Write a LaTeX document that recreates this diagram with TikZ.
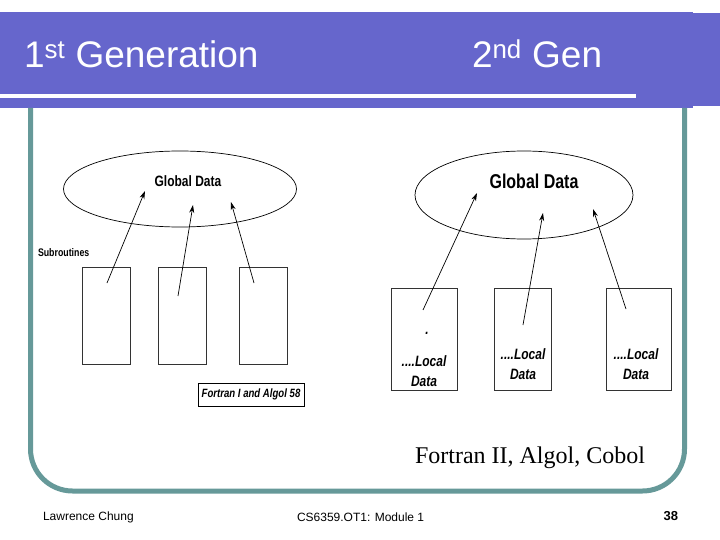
\documentclass[tikz,border=0pt]{standalone}
\usepackage{fontspec}
\setmainfont{Liberation Sans}
\newfontfamily\serifface{Liberation Serif}
\newfontfamily\narrowface[FakeStretch=0.8]{Liberation Sans}
\usetikzlibrary{shapes.geometric,arrows.meta,positioning,calc}

\definecolor{banner}{RGB}{102,102,204}
\definecolor{frameteal}{RGB}{102,153,153}

\begin{document}
\begin{tikzpicture}[
        x=1pt, y=-1pt,
        every node/.style={inner sep=0pt, outer sep=0pt},
        title/.style={anchor=base west, text=white, font=\fontsize{37}{40}\selectfont},
        blob/.style={ellipse, draw=black, line width=0.7pt},
        sub/.style={rectangle, draw=black!80, line width=0.6pt, anchor=north west},
        small/.style={font=\narrowface\bfseries\fontsize{15}{16}\selectfont},
        local/.style={align=center, font=\narrowface\bfseries\itshape\fontsize{15}{20}\selectfont},
        access/.style={-{Stealth[length=8pt,width=5pt]}, line width=0.7pt},
        foot/.style={font=\fontsize{12}{13}\selectfont}
    ]
        \useasboundingbox (0,0) rectangle (720,540);
        \fill[white] (0,0) rectangle (720,540);

        % Banner
        \fill[banner] (0,12) rectangle (693,108);
        \fill[banner] (693,13) rectangle (720,106);
        \fill[white] (0,94) rectangle (636,98);
        \node[title] (gen1) at (24,68) {1\textsuperscript{st} Generation};
        \node[title] (gen2) at (472,68) {2\textsuperscript{nd} Gen};

        % Frame
        \draw[frameteal, line width=5pt, rounded corners=42pt]
            (30.5,108) -- (30.5,491) -- (684.5,491) -- (684.5,108);

        % 1st generation
        \node[blob, minimum width=233pt, minimum height=76pt] (glob1) at (180,189) {};
        \node[small] (glob1txt) at (188,181) {Global Data};
        \node[small, font=\narrowface\bfseries\fontsize{11}{12}\selectfont, anchor=west] (subr) at (38,253) {Subroutines};

        \node[sub, minimum width=48pt, minimum height=97pt] (sub1) at (82,267) {};
        \node[sub, minimum width=48pt, minimum height=97pt] (sub2) at (158,267) {};
        \node[sub, minimum width=48pt, minimum height=97pt] (sub3) at (239,267) {};

        \node[sub, draw=black, minimum width=106pt, minimum height=23pt,
              font=\narrowface\bfseries\itshape\fontsize{12}{13}\selectfont] (fort1) at (198,383) {Fortran I and Algol 58};

        \coordinate (s1) at (107,283);
        \coordinate (s2) at (178,296);
        \coordinate (s3) at (254,283);
        \coordinate (g1) at (145,191);
        \coordinate (g2) at (193,205);
        \coordinate (g3) at (231,202);
        \draw[access] (s1) -- (g1);
        \draw[access] (s2) -- (g2);
        \draw[access] (s3) -- (g3);

        % 2nd generation
        \node[blob, minimum width=218pt, minimum height=88pt] (glob2) at (524,195) {};
        \node[font=\narrowface\bfseries\fontsize{20}{22}\selectfont] (glob2txt) at (534,181) {Global Data};

        \node[sub, minimum width=66pt, minimum height=102pt] (mod1) at (391,288) {};
        \node[sub, minimum width=57pt, minimum height=102pt] (mod2) at (494,288) {};
        \node[sub, minimum width=65pt, minimum height=102pt] (mod3) at (606,288) {};

        \node[local] (dot1) at (427,333) {.};
        \node[local] (loc1) at (424,371) {....Local\\Data};
        \node[local] (loc2) at (523,364) {....Local\\Data};
        \node[local] (loc3) at (636,364) {....Local\\Data};

        \coordinate (m1) at (423,310);
        \coordinate (m2) at (523,325);
        \coordinate (m3) at (626,309);
        \coordinate (h1) at (477,193);
        \coordinate (h2) at (543,213);
        \coordinate (h3) at (593,209);
        \draw[access] (m1) -- (h1);
        \draw[access] (m2) -- (h2);
        \draw[access] (m3) -- (h3);

        \node[font=\serifface\fontsize{24}{26}\selectfont] (fort2) at (530,458) {Fortran II, Algol, Cobol};

        % Footer
        \node[foot, anchor=west] (author) at (43,517) {Lawrence Chung};
        \node[foot, anchor=west] (course) at (297,517) {CS6359.OT1: Module 1};
        \node[foot, font=\bfseries\fontsize{13}{14}\selectfont, anchor=east] (page) at (678,516) {38};

    \end{tikzpicture}
\end{document}
